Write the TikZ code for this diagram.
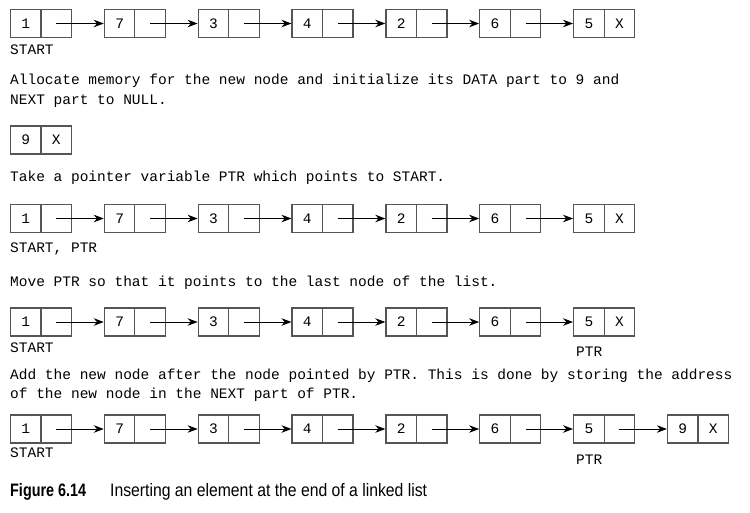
\documentclass[tikz,border=0pt]{standalone}
\usepackage{fontspec}
\usetikzlibrary{arrows.meta}
\newfontfamily\monofnt{Liberation Mono}
\newfontfamily\capfnt[FakeStretch=0.875]{Liberation Sans}
\newfontfamily\capbfnt[FakeStretch=0.8]{Liberation Sans}
\definecolor{boxgray}{RGB}{85,85,85}
\newcommand\drawlist[4]{%
  \foreach \v [count=\i] in {#3} {
    \pgfmathsetmacro\lx{10.5+93.85*(\i-1)}
    \node[cell] (#1d\i) at (\lx+15.25,#2) {\v};
    \node[cell] (#1p\i) at (\lx+45.75,#2) {\ifnum\i=#4 X\fi};
  }
  \ifnum#4>1
  \foreach \j [evaluate=\j as \i using int(\j-1)] in {2,...,#4} {
    \draw[link] (#1p\i.center) -- (#1d\j.west);
  }
  \fi
}
\begin{document}
\begin{tikzpicture}[x=1pt,y=-1pt,
  cell/.style={draw=boxgray, line width=1.2, minimum width=30.5, minimum height=28, inner sep=0,
    font=\monofnt\fontsize{14.5}{17}\selectfont},
  link/.style={line width=0.9, -{Stealth[length=10,width=7.5]}},
  txt/.style={anchor=base west, inner sep=0, font=\monofnt\fontsize{14.5}{17}\selectfont},
  captxt/.style={anchor=base west, inner sep=0, font=\capfnt\fontsize{18}{20}\selectfont}]
\useasboundingbox (0,0) rectangle (750,512);
% row 1
\drawlist{a}{23.5}{1,7,3,4,2,6,5}{7}
\node[txt] (s1) at (10,54) {START};
\node[txt] (t1) at (10,84) {Allocate memory for the new node and initialize its DATA part to 9 and};
\node[txt] (t2) at (10,104) {NEXT part to NULL.};
% row 2
\drawlist{b}{140}{9}{1}
\node[txt] (t3) at (10,181) {Take a pointer variable PTR which points to START.};
% row 3
\drawlist{c}{218.5}{1,7,3,4,2,6,5}{7}
\node[txt] (s3) at (10,252) {START, PTR};
\node[txt] (t4) at (10,286) {Move PTR so that it points to the last node of the list.};
% row 4
\drawlist{d}{322}{1,7,3,4,2,6,5}{7}
\node[txt] (s4) at (10,352) {START};
\node[txt] (p4) at (576,356) {PTR};
\node[txt] (t5) at (10,379) {Add the new node after the node pointed by PTR. This is done by storing the address};
\node[txt] (t6) at (10,398) {of the new node in the NEXT part of PTR.};
% row 5
\drawlist{e}{429}{1,7,3,4,2,6,5,9}{8}
\node[txt] (s5) at (10,457) {START};
\node[txt] (p5) at (576,464) {PTR};
% caption
\node[captxt, font=\capbfnt\bfseries\fontsize{18}{20}\selectfont] (c1) at (10,496) {Figure 6.14};
\node[captxt] (c2) at (110,496) {Inserting an element at the end of a linked list};
\end{tikzpicture}
\end{document}
